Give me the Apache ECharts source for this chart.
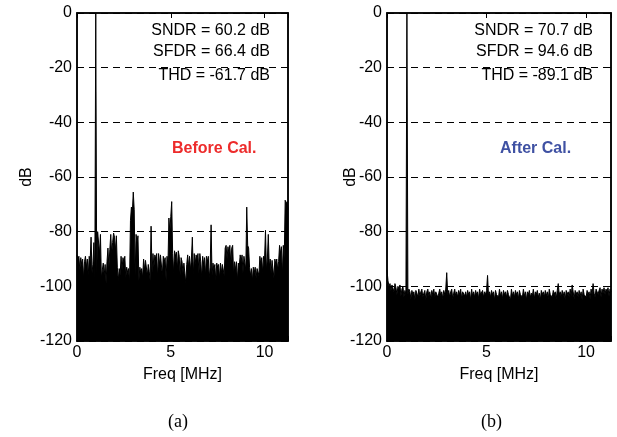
<!DOCTYPE html>
<html>
<head>
<meta charset="utf-8">
<script src="https://cdn.jsdelivr.net/npm/echarts@6/dist/echarts.min.js"></script>
<style>
  html, body { margin: 0; padding: 0; background: #fff; }
  #chart { width: 617px; height: 437px; }
</style>
</head>
<body>
<div id="chart"></div>
<script>
// ============================
// Datos
// ============================
var binMHz = 0.05;              // separación entre bins del espectro
var freqMax = 11.25;
var xTicks = [0, 5, 10];
var yTicks = [0, -20, -40, -60, -80, -100, -120];

// (a) antes de la calibración, dB por bin
var antesCal = [
    -88.5, -90, -89, -94, -89.5, -92, -90, -97, -91, -89,
    -93, -90, -96, -89, -91, -82, -95, -92, -84, -97,
    0, -96, -80, -80.5, -88, -81, -97, -94, -91.5, -96,
    -92, -99, -91, -86, -93, -86.5, -81, -88, -84, -80.5,
    -82, -87, -81.5, -93, -98, -93.5, -96, -89, -94, -89.5,
    -91, -89, -97, -93, -95, -93.5, -99, -76, -71, -73,
    -65.5, -72, -96, -81, -84, -81.5, -98, -93, -95, -93.5,
    -97, -90, -94, -90.5, -91, -96, -92, -94.5, -98, -78,
    -95, -88, -93, -88.5, -90, -88, -97, -88, -92, -88.5,
    -89, -96, -89, -91, -89.5, -98, -89, -92, -75, -80,
    -74.5, -69, -88, -95, -87, -89, -87.5, -94, -87, -89,
    -96, -89.5, -91, -95, -91.5, -92, -99, -92, -88.5, -93,
    -89, -94, -90, -82, -96, -88, -92, -88.5, -90, -88,
    -95, -88, -91, -97, -89, -92, -89.5, -96, -89, -91,
    -89, -97, -93, -77.5, -96, -91.5, -94, -92, -98, -91.5,
    -93, -92, -97, -91.5, -95, -92, -91.5, -96, -86, -85,
    -90, -85.5, -88, -85, -92, -86, -85, -96, -91, -94,
    -91, -98, -91.5, -93, -88.5, -91, -88.5, -95, -89, -88.5,
    -94, -71, -85, -86, -93, -96, -93.5, -98, -93, -95,
    -93, -97, -93.5, -94, -96, -89, -92, -89.5, -95, -89,
    -90, -79.5, -94, -90, -81, -93, -90, -95, -90.5, -91,
    -97, -90, -92, -90, -94, -91, -85, -88, -85.5, -96,
    -85, -90, -68.5, -70, -69, -72
];

// (b) después de la calibración, dB por bin
var despuesCal = [
    -94, -98, -100, -99, -101.5, -99.5, -100, -102, -99, -100.5,
    -103, -100, -101, -99.5, -103.5, -101, -100, -104, -101.5, -103,
    0, -103, -101, -102, -104.5, -101.5, -103, -102, -105, -101.5,
    -102.5, -104, -101, -103.5, -102, -101, -104, -102.5, -101.5, -105,
    -102, -101, -103.5, -102, -104.5, -101.5, -103, -101, -104, -102,
    -101.5, -104, -102.5, -101, -103.5, -102, -104.5, -101.5, -103, -101,
    -95, -103, -101.5, -104, -102, -101, -104.5, -102.5, -101, -103.5,
    -102, -104, -101.5, -103, -101, -104.5, -102, -101.5, -103.5, -102,
    -104, -101.5, -103, -102, -105, -101, -103.5, -102, -104, -101.5,
    -103, -102, -104.5, -101, -103, -102.5, -101.5, -104, -102, -103,
    -101.5, -96, -103.5, -102, -104, -101.5, -103, -102, -105, -101.5,
    -103, -102.5, -104, -101, -103.5, -102, -104.5, -101.5, -103, -102,
    -104, -101.5, -103, -102.5, -105, -101, -103.5, -102, -104, -101.5,
    -103, -102, -104.5, -101.5, -103, -102.5, -104, -101, -103.5, -102,
    -105, -102, -103, -101.5, -104, -102.5, -103.5, -101, -104.5, -102,
    -103, -101.5, -104, -102.5, -105, -101.5, -103, -102, -104, -101.5,
    -103.5, -102, -104.5, -101, -103, -102.5, -104, -101.5, -103, -102,
    -104.5, -101.5, -99, -103, -102, -104, -101.5, -103.5, -102, -105,
    -101.5, -103, -102, -104, -101, -103.5, -99.5, -102, -104.5, -101.5,
    -103, -102, -104, -101.5, -103.5, -102, -105, -101, -103, -102.5,
    -104, -101.5, -103, -102, -104.5, -101, -103, -99, -102.5, -104,
    -101, -100.5, -103, -101.5, -100.5, -104, -101, -102.5, -100.5, -103,
    -101, -102, -100.5, -103.5, -101, -102
];

var metricasAntes = ["SNDR = 60.2 dB", "SFDR = 66.4 dB", "THD = -61.7 dB"];
var metricasDespues = ["SNDR = 70.7 dB", "SFDR = 94.6 dB", "THD = -89.1 dB"];

// ============================
// Utilidades
// ============================
var FONT = "Liberation Sans, Arial, sans-serif";

function toPairs(arr) {
    return arr.map((v, i) => [+(i * binMHz).toFixed(2), v]);
}

function xAxisFor(grid, top) {
    return {
        type: "value", gridIndex: grid, min: 0, max: freqMax, interval: 5,
        position: top ? "top" : "bottom",
        name: top ? "" : "Freq [MHz]", nameLocation: "middle", nameGap: 26,
        nameTextStyle: { color: "#000", fontSize: 16, fontFamily: FONT },
        axisLine: { show: true, onZero: false, lineStyle: { color: "#000", width: 1.5 } },
        axisTick: { show: true, inside: true, length: 5, lineStyle: { color: "#000" } },
        axisLabel: {
            show: !top, color: "#000", fontSize: 16, fontFamily: FONT, margin: 4,
            formatter: v => (xTicks.indexOf(v) >= 0 ? String(v) : "")
        },
        splitLine: { show: false }
    };
}

function yAxisFor(grid, right, gap) {
    return {
        type: "value", gridIndex: grid, min: -120, max: 0, interval: 20,
        position: right ? "right" : "left",
        name: right ? "" : "dB", nameLocation: "middle", nameGap: gap,
        nameMoveOverlap: false,
        nameTextStyle: { color: "#000", fontSize: 16, fontFamily: FONT },
        axisLine: { show: true, onZero: false, lineStyle: { color: "#000", width: 1.5 } },
        axisTick: { show: true, inside: true, length: 5, lineStyle: { color: "#000" } },
        axisLabel: { show: !right, color: "#000", fontSize: 16, fontFamily: FONT, margin: 5 },
        splitLine: {
            show: !right,
            lineStyle: { color: "#000", type: [7, 5], width: 1 }
        }
    };
}

function espectro(data, xi, yi) {
    return {
        type: "line", xAxisIndex: xi, yAxisIndex: yi,
        data: toPairs(data), showSymbol: false, silent: true,
        lineStyle: { color: "#000", width: 1 },
        areaStyle: { color: "#000", opacity: 1, origin: "start" },
        z: 1
    };
}

function textos(lines, right, ys) {
    return lines.map((t, k) => ({
        type: "text", right: right, top: ys[k] - 9,
        style: { text: t, fill: "#000", font: "16px " + FONT, textAlign: "right" }
    }));
}

// ============================
// Chart
// ============================
var chart = echarts.init(document.getElementById("chart"));
chart.setOption({
    animation: false,
    backgroundColor: "#fff",
    grid: [
        { left: 77, top: 13, width: 211, height: 328, show: true, borderColor: "#000", borderWidth: 1.5 },
        { left: 387, top: 13, width: 224, height: 328, show: true, borderColor: "#000", borderWidth: 1.5 }
    ],
    xAxis: [xAxisFor(0, false), xAxisFor(1, false), xAxisFor(0, true), xAxisFor(1, true)],
    yAxis: [yAxisFor(0, false, 42), yAxisFor(1, false, 28), yAxisFor(0, true), yAxisFor(1, true)],
    series: [espectro(antesCal, 0, 0), espectro(despuesCal, 1, 1)],
    graphic: [].concat(
        textos(metricasAntes, 617 - 270, [32, 53, 77]),
        textos(metricasDespues, 617 - 593, [32, 53, 77]),
        [
            { type: "text", left: 172, top: 141, style: { text: "Before Cal.", fill: "#ed2b2b", font: "bold 16px " + FONT, textAlign: "center" } },
            { type: "text", left: 500, top: 141, style: { text: "After Cal.", fill: "#3f51a3", font: "bold 16px " + FONT, textAlign: "center" } },
            { type: "text", left: 168, top: 413, style: { text: "(a)", fill: "#000", font: "18px Liberation Serif, Times New Roman, serif", textAlign: "center" } },
            { type: "text", left: 481, top: 413, style: { text: "(b)", fill: "#000", font: "18px Liberation Serif, Times New Roman, serif", textAlign: "center" } }
        ]
    )
});
</script>
</body>
</html>
